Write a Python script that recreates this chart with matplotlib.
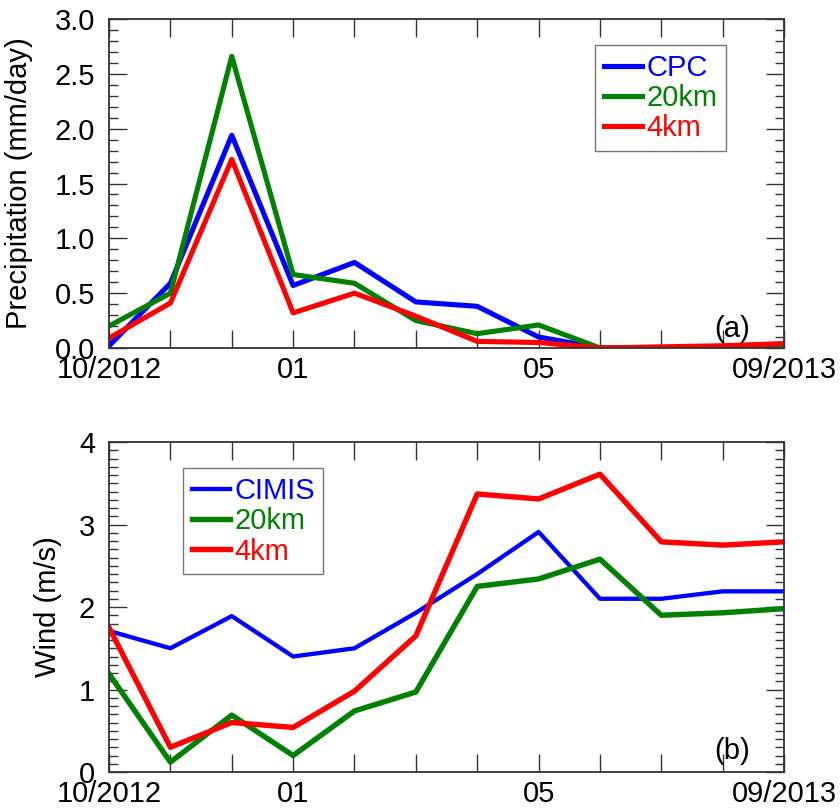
import numpy as np
import matplotlib
matplotlib.use('Agg')
import matplotlib.pyplot as plt
from matplotlib.ticker import MultipleLocator, FormatStrFormatter

plt.rcParams['font.family'] = ['Liberation Sans', 'DejaVu Sans']
plt.rcParams['font.size'] = 21

# monthly means, 10/2012 .. 09/2013
months = np.arange(12)
month_labels = ['10/2012', '', '', '01', '', '', '', '05', '', '', '', '09/2013']

pr_cpc  = [0.02, 0.59, 1.94, 0.57, 0.78, 0.42, 0.38, 0.10, 0.00, 0.00, 0.01, 0.01]
pr_20km = [0.20, 0.50, 2.66, 0.67, 0.59, 0.25, 0.13, 0.21, 0.00, 0.00, 0.01, 0.02]
pr_4km  = [0.09, 0.41, 1.72, 0.32, 0.50, 0.29, 0.06, 0.05, 0.00, 0.01, 0.02, 0.04]

wind_cimis = [1.71, 1.50, 1.89, 1.40, 1.50, 1.93, 2.40, 2.91, 2.10, 2.10, 2.19, 2.19]
wind_20km  = [1.19, 0.12, 0.69, 0.20, 0.74, 0.97, 2.25, 2.34, 2.58, 1.90, 1.93, 1.98]
wind_4km   = [1.75, 0.30, 0.60, 0.54, 0.98, 1.65, 3.37, 3.31, 3.61, 2.79, 2.75, 2.79]

BLUE = '#0000ff'
GREEN = '#008000'
RED = '#ff0000'
EDGE = '#333333'

fig = plt.figure(figsize=(8.4, 8.1), dpi=100)
ax1 = fig.add_axes([0.1298, 0.5704, 0.8036, 0.4061])
ax2 = fig.add_axes([0.1298, 0.0469, 0.8036, 0.4074])


def style_axes(ax, ymax, ymajor):
    ax.set_xlim(0, 11)
    ax.set_ylim(0, ymax)
    ax.set_xticks(months)
    ax.set_xticklabels(month_labels)
    ax.yaxis.set_major_locator(MultipleLocator(ymajor))
    ax.yaxis.set_minor_locator(MultipleLocator(0.1))
    ax.tick_params(axis='x', which='major', direction='in', top=True,
                   length=13, width=1.0, color=EDGE, pad=6)
    ax.tick_params(axis='y', which='major', direction='in', right=True,
                   length=13, width=1.0, color=EDGE, pad=10)
    ax.tick_params(axis='y', which='minor', direction='in', right=True,
                   length=6.5, width=1.0, color=EDGE)
    for sp in ax.spines.values():
        sp.set_color(EDGE)
        sp.set_linewidth(1.3)


def add_legend(ax, anchor):
    leg = ax.legend(loc='upper left', bbox_to_anchor=anchor, borderaxespad=0,
                    fancybox=False, handlelength=1.3, handletextpad=0.15,
                    labelspacing=0.08, borderpad=0.3, fontsize=21,
                    labelcolor='linecolor')
    leg.get_frame().set_edgecolor('#555555')
    leg.get_frame().set_linewidth(1.0)
    return leg


# (a) precipitation
ax1.plot(months, pr_cpc, color=BLUE, lw=3.7, label='CPC')
ax1.plot(months, pr_20km, color=GREEN, lw=3.7, label='20km')
ax1.plot(months, pr_4km, color=RED, lw=3.7, label='4km')
style_axes(ax1, 3.0, 0.5)
ax1.yaxis.set_major_formatter(FormatStrFormatter('%.1f'))
ax1.set_ylabel('Precipitation (mm/day)')
ax1.yaxis.set_label_coords(-0.113, 0.5)
add_legend(ax1, (0.72, 0.921))
ax1.text(0.95, 0.015, '(a)', transform=ax1.transAxes, ha='right', va='bottom')

# (b) wind speed
ax2.plot(months, wind_cimis, color=BLUE, lw=3.1, label='CIMIS')
ax2.plot(months, wind_20km, color=GREEN, lw=3.9, label='20km')
ax2.plot(months, wind_4km, color=RED, lw=3.9, label='4km')
style_axes(ax2, 4, 1)
ax2.set_ylabel('Wind (m/s)')
ax2.yaxis.set_label_coords(-0.07, 0.5)
add_legend(ax2, (0.1096, 0.921))
ax2.text(0.95, 0.02, '(b)', transform=ax2.transAxes, ha='right', va='bottom')

fig.savefig('out.png', dpi=100)
